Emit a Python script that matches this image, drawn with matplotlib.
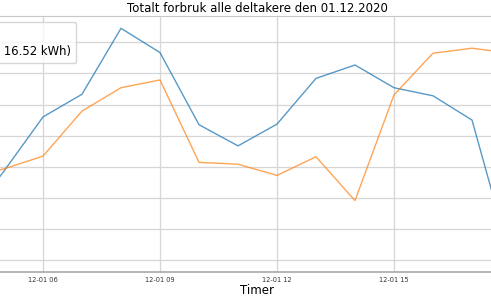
import numpy as np
import pandas as pd
import matplotlib
matplotlib.use("Agg")
import matplotlib.pyplot as plt
import matplotlib.dates as mdates

# timer 04..18 den 01.12.2020 (resten av døgnet er utenfor bildet)
timer = pd.date_range("2020-12-01 04:00", "2020-12-01 18:00", freq="h")
forbruk_a = [0.32, 0.486, 0.660, 0.733, 0.945, 0.867, 0.635, 0.567, 0.637,
             0.784, 0.827, 0.754, 0.728, 0.650, 0.200]
forbruk_b = [0.46, 0.493, 0.534, 0.679, 0.754, 0.779, 0.514, 0.508, 0.472,
             0.532, 0.391, 0.731, 0.865, 0.881, 0.865]
label_a = "Forbruk"
label_b = "Forbruk uten tiltak (totalt 16.52 kWh)"
tittel = "Totalt forbruk alle deltakere den 01.12.2020"

fig = plt.figure(figsize=(4.91, 3.0), dpi=100)
ax = fig.add_axes([-191 / 491, 28 / 300, 897 / 491, 256 / 300])

ax.plot(timer, forbruk_a, color="#1f77b4", alpha=0.75, lw=1.0, label=label_a)
ax.plot(timer, forbruk_b, color="#ff7f0e", alpha=0.7, lw=1.0, label=label_b)

ax.set_xlim(pd.Timestamp("2020-12-01 00:00"), pd.Timestamp("2020-12-01 23:00"))
ax.set_ylim(0.1614, 0.9846)
ax.set_yticks(np.arange(0.2, 0.95, 0.1))
ax.xaxis.set_major_locator(mdates.HourLocator(byhour=range(0, 24, 3)))
ax.xaxis.set_major_formatter(mdates.DateFormatter("%m-%d %H"))
ax.tick_params(axis="both", length=0, labelsize=4.8, colors="#333333", pad=3.5)

ax.grid(True, color="#d6d6d6", lw=0.9)
for s in ax.spines.values():
    s.set_color("#c8c8c8")
ax.spines["bottom"].set_color("#a8a8a8")
ax.spines["bottom"].set_linewidth(1.2)

ax.set_title(tittel, fontsize=8.5, pad=3)
ax.set_xlabel("Timer", fontsize=8.5, labelpad=0.5)
ax.legend(loc="upper left", fontsize=8.4)

fig.savefig("out.png", dpi=100)
